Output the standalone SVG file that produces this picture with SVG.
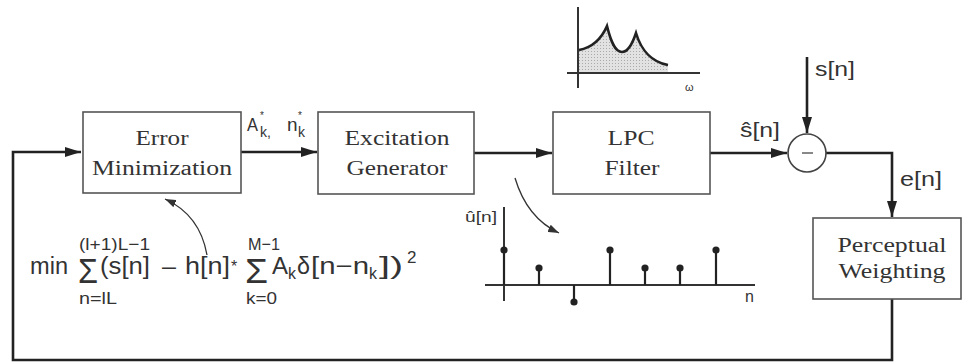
<svg xmlns="http://www.w3.org/2000/svg" width="963" height="364" viewBox="0 0 963 364">
<style>
.box{fill:#fff;stroke:#555;stroke-width:1.6}
.lbl{font-family:"Liberation Serif","Times New Roman",serif;font-size:20px;fill:#333;text-anchor:middle}
.sans{font-family:"Liberation Sans",Arial,sans-serif;fill:#333}
.wire{fill:none;stroke:#222;stroke-width:2.6}
.thin{fill:none;stroke:#333;stroke-width:1.3}
.ax{stroke:#333;stroke-width:2;fill:none}
.stem{stroke:#222;stroke-width:2.2}
.dot{fill:#222}
</style>
<defs>
<marker id="ah" markerUnits="userSpaceOnUse" markerWidth="17" markerHeight="10" refX="16" refY="5" orient="auto">
<path d="M0,0 L16,5 L0,10 z" fill="#222"/>
</marker>
<marker id="ahs" markerUnits="userSpaceOnUse" markerWidth="12" markerHeight="8" refX="11" refY="4" orient="auto">
<path d="M0,0 L11,4 L0,8 z" fill="#333"/>
</marker>
<pattern id="dots" width="3" height="3" patternUnits="userSpaceOnUse">
<rect width="3" height="3" fill="#e2e2e2"/>
<rect width="1" height="1" fill="#aaa"/>
</pattern>
</defs>

<g id="connectors">
<path class="wire" d="M892,299 V360 H13 V152 H81" marker-end="url(#ah)"/>
<path class="wire" d="M241,152 H317" marker-end="url(#ah)"/>
<path class="wire" d="M474,153 H552" marker-end="url(#ah)"/>
<path class="wire" d="M710,153 H787" marker-end="url(#ah)"/>
<path class="wire" d="M807,57 V133" marker-end="url(#ah)"/>
<path class="wire" d="M826,153 H892 V217" marker-end="url(#ah)"/>
<path class="thin" d="M207,255 Q200,215 165,199" marker-end="url(#ahs)"/>
<path class="thin" d="M515,178 Q527,218 559,233" marker-end="url(#ahs)"/>
</g>

<g id="error-minimization">
<rect class="box" x="83" y="112" width="158" height="81"/>
<text class="lbl" x="162" y="145" textLength="53" lengthAdjust="spacingAndGlyphs">Error</text>
<text class="lbl" x="162" y="175" textLength="140" lengthAdjust="spacingAndGlyphs">Minimization</text>
</g>

<g id="excitation-generator">
<rect class="box" x="318" y="112" width="156" height="82"/>
<text class="lbl" x="397" y="145" textLength="105" lengthAdjust="spacingAndGlyphs">Excitation</text>
<text class="lbl" x="397" y="175" textLength="101" lengthAdjust="spacingAndGlyphs">Generator</text>
</g>

<g id="lpc-filter">
<rect class="box" x="553" y="112" width="157" height="82"/>
<text class="lbl" x="631" y="145" textLength="47" lengthAdjust="spacingAndGlyphs">LPC</text>
<text class="lbl" x="632" y="175" textLength="55" lengthAdjust="spacingAndGlyphs">Filter</text>
</g>

<g id="subtractor">
<circle cx="807" cy="153" r="19" fill="#fff" stroke="#444" stroke-width="1.6"/>
<line x1="802" y1="153" x2="813" y2="153" stroke="#555" stroke-width="1.4"/>
</g>

<g id="perceptual-weighting">
<rect class="box" x="813" y="218" width="148" height="81"/>
<text class="lbl" x="892" y="252" textLength="109" lengthAdjust="spacingAndGlyphs">Perceptual</text>
<text class="lbl" x="892" y="278" textLength="107" lengthAdjust="spacingAndGlyphs">Weighting</text>
</g>

<g id="labels" class="sans">
<text x="247" y="131" font-size="19" textLength="11" lengthAdjust="spacingAndGlyphs">A</text>
<text x="260" y="119" font-size="10">*</text>
<text x="260" y="137" font-size="14">k,</text>
<text x="287" y="131" font-size="19">n</text>
<text x="298" y="119" font-size="10">*</text>
<text x="298" y="137" font-size="14">k</text>
<text x="740" y="137" font-size="20" textLength="40" lengthAdjust="spacingAndGlyphs">ŝ[n]</text>
<text x="815" y="76" font-size="20" textLength="40" lengthAdjust="spacingAndGlyphs">s[n]</text>
<text x="900" y="186" font-size="20" textLength="42" lengthAdjust="spacingAndGlyphs">e[n]</text>
</g>

<g id="formula" class="sans">
<text x="30" y="274" font-size="23" textLength="38" lengthAdjust="spacingAndGlyphs">min</text>
<text x="78" y="283" font-size="35" textLength="20" lengthAdjust="spacingAndGlyphs">Σ</text>
<text x="79" y="250" font-size="17" textLength="71" lengthAdjust="spacingAndGlyphs">(l+1)L−1</text>
<text x="79" y="304" font-size="17" textLength="38" lengthAdjust="spacingAndGlyphs">n=lL</text>
<text x="100" y="274" font-size="23" textLength="50" lengthAdjust="spacingAndGlyphs">(s[n]</text>
<text x="162" y="274" font-size="23" textLength="14" lengthAdjust="spacingAndGlyphs">–</text>
<text x="185" y="274" font-size="23" textLength="45" lengthAdjust="spacingAndGlyphs">h[n]</text>
<text x="231" y="272" font-size="16">*</text>
<text x="245" y="283" font-size="35" textLength="23" lengthAdjust="spacingAndGlyphs">Σ</text>
<text x="248" y="250" font-size="17" textLength="32" lengthAdjust="spacingAndGlyphs">M−1</text>
<text x="246" y="304" font-size="17" textLength="31" lengthAdjust="spacingAndGlyphs">k=0</text>
<text x="272" y="274" font-size="23" textLength="16" lengthAdjust="spacingAndGlyphs">A</text>
<text x="288" y="279" font-size="16">k</text>
<text x="297" y="274" font-size="23" textLength="13" lengthAdjust="spacingAndGlyphs">δ</text>
<text x="311" y="274" font-size="23" textLength="58" lengthAdjust="spacingAndGlyphs">[n−n</text>
<text x="369" y="279" font-size="16">k</text>
<text x="379" y="274" font-size="23" textLength="24" lengthAdjust="spacingAndGlyphs">])</text>
<text x="407" y="263" font-size="17">2</text>
</g>

<g id="spectrum">
<path d="M579,50 C590,48 600,42 607,26 C611,42 615,52 622,52 C628,52 632,45 636,33 C641,50 652,62 668,65 L668,73 L579,73 Z" fill="url(#dots)" stroke="none"/>
<line class="ax" x1="578" y1="7" x2="578" y2="88"/>
<line class="ax" x1="567" y1="73" x2="700" y2="73"/>
<path d="M579,50 C590,48 600,42 607,26 C611,42 615,52 622,52 C628,52 632,45 636,33 C641,50 652,62 668,65" fill="none" stroke="#222" stroke-width="2.6" stroke-linejoin="miter"/>
<text class="sans" x="685" y="91" font-size="11">ω</text>
</g>

<g id="stem-plot">
<line class="ax" x1="504" y1="207" x2="504" y2="301"/>
<line class="ax" x1="485" y1="285" x2="755" y2="285"/>
<line class="stem" x1="504" y1="285" x2="504" y2="250"/><circle class="dot" cx="504" cy="250" r="3.6"/>
<line class="stem" x1="539" y1="285" x2="539" y2="268"/><circle class="dot" cx="539" cy="268" r="3.6"/>
<line class="stem" x1="574" y1="285" x2="574" y2="302"/><circle class="dot" cx="574" cy="302" r="3.6"/>
<line class="stem" x1="610" y1="285" x2="610" y2="250"/><circle class="dot" cx="610" cy="250" r="3.6"/>
<line class="stem" x1="645" y1="285" x2="645" y2="268"/><circle class="dot" cx="645" cy="268" r="3.6"/>
<line class="stem" x1="680" y1="285" x2="680" y2="268"/><circle class="dot" cx="680" cy="268" r="3.6"/>
<line class="stem" x1="716" y1="285" x2="716" y2="250"/><circle class="dot" cx="716" cy="250" r="3.6"/>
<text class="sans" x="465" y="222" font-size="15" textLength="32" lengthAdjust="spacingAndGlyphs">û[n]</text>
<text class="sans" x="745" y="302" font-size="16">n</text>
</g>
</svg>
